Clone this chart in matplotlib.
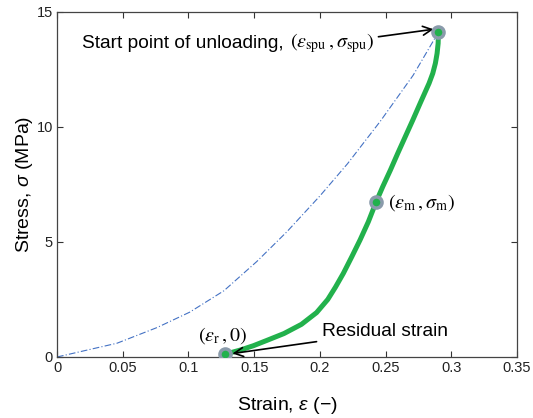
import matplotlib
matplotlib.use("Agg")
import matplotlib.pyplot as plt

plt.rcParams['font.family'] = ['Liberation Sans', 'DejaVu Sans']
plt.rcParams['mathtext.fontset'] = 'custom'
plt.rcParams['mathtext.rm'] = 'Liberation Sans'
plt.rcParams['mathtext.it'] = 'Liberation Sans:italic'

# Loading curve (blue dash-dot)
load_strain = [0.0, 0.0457, 0.0761, 0.101, 0.127, 0.152, 0.175, 0.200, 0.221, 0.246, 0.271, 0.290]
load_stress = [0.0, 0.60, 1.28, 1.95, 2.88, 4.15, 5.45, 7.0, 8.4, 10.25, 12.25, 14.10]

# Unloading curve (green)
unload_strain = [0.2902, 0.2900, 0.2892, 0.2879, 0.2859, 0.2831, 0.2763, 0.2707, 0.2650, 0.2593,
                 0.2537, 0.2478, 0.2428, 0.2369, 0.2306, 0.2243, 0.2179, 0.2118, 0.2060, 0.1975,
                 0.1860, 0.1727, 0.1596, 0.1494, 0.1393, 0.1279]
unload_stress = [14.12, 13.64, 13.20, 12.77, 12.33, 11.90, 11.03, 10.30, 9.58, 8.86,
                 8.13, 7.40, 6.74, 5.88, 5.09, 4.36, 3.64, 3.03, 2.50, 1.93,
                 1.42, 1.02, 0.72, 0.49, 0.30, 0.12]

# Key points
pt_spu = (0.2902, 14.12)
pt_m = (0.2428, 6.74)
pt_r = (0.1279, 0.12)

x_ticks = [0, 0.05, 0.1, 0.15, 0.2, 0.25, 0.3, 0.35]
x_ticklabels = ['0', '0.05', '0.1', '0.15', '0.2', '0.25', '0.3', '0.35']
y_ticks = [0, 5, 10, 15]
y_ticklabels = ['0', '5', '10', '15']

fig = plt.figure(figsize=(5.33, 4.18), dpi=100)
ax = fig.add_axes([57/533, (418-357)/418, (517-57)/533, (357-12)/418])

ax.plot(load_strain, load_stress, color='#4472c4', lw=0.8, linestyle=(0, (6, 2, 1, 2)))
ax.plot(unload_strain, unload_stress, color='#22b14c', lw=3.6, solid_capstyle='round',
        solid_joinstyle='round')

for p in (pt_spu, pt_m, pt_r):
    ax.plot([p[0]], [p[1]], 'o', ms=8, mfc='#22b14c', mec='#8a9bab', mew=2.5, zorder=5)

ax.set_xlim(0, 0.35)
ax.set_ylim(0, 15)
ax.set_xticks(x_ticks)
ax.set_xticklabels(x_ticklabels)
ax.set_yticks(y_ticks)
ax.set_yticklabels(y_ticklabels)
ax.tick_params(direction='in', top=True, right=True, labelsize=10.5, length=4,
               color='#333333', labelcolor='#222222', pad=3)
for s in ax.spines.values():
    s.set_color('#444444')
    s.set_linewidth(0.9)

ax.set_xlabel(r'Strain, $\it{ε}$ (−)', fontsize=14, labelpad=14)
ax.set_ylabel(r'Stress, $\it{σ}$ (MPa)', fontsize=14, labelpad=1)

ax.text(0.019, 13.65, 'Start point of unloading,', fontsize=13.8, ha='left', va='center')
ax.annotate(r'$(\varepsilon_{\rm spu}\,,\sigma_{\rm spu})$', xy=(0.2865, 14.25), xytext=(0.1773, 13.65),
            fontsize=14.4, math_fontfamily='stix', ha='left', va='center',
            arrowprops=dict(arrowstyle='->', color='black', lw=1.2, mutation_scale=16,
                            shrinkA=1, shrinkB=0))
ax.text(0.2515, 6.7, r'$(\varepsilon_{\rm m}\,,\sigma_{\rm m})$', fontsize=14.4,
        math_fontfamily='stix', ha='left', va='center')
ax.text(0.126, 0.95, r'$(\varepsilon_{\rm r}\,,0)$', fontsize=14.4,
        math_fontfamily='stix', ha='center', va='center')
ax.annotate('Residual strain', xy=(0.1335, 0.15), xytext=(0.2017, 1.09),
            fontsize=13.8, ha='left', va='center',
            arrowprops=dict(arrowstyle='->', color='black', lw=1.2, mutation_scale=16,
                            shrinkA=2, shrinkB=0))

fig.savefig('out.png', dpi=100)
